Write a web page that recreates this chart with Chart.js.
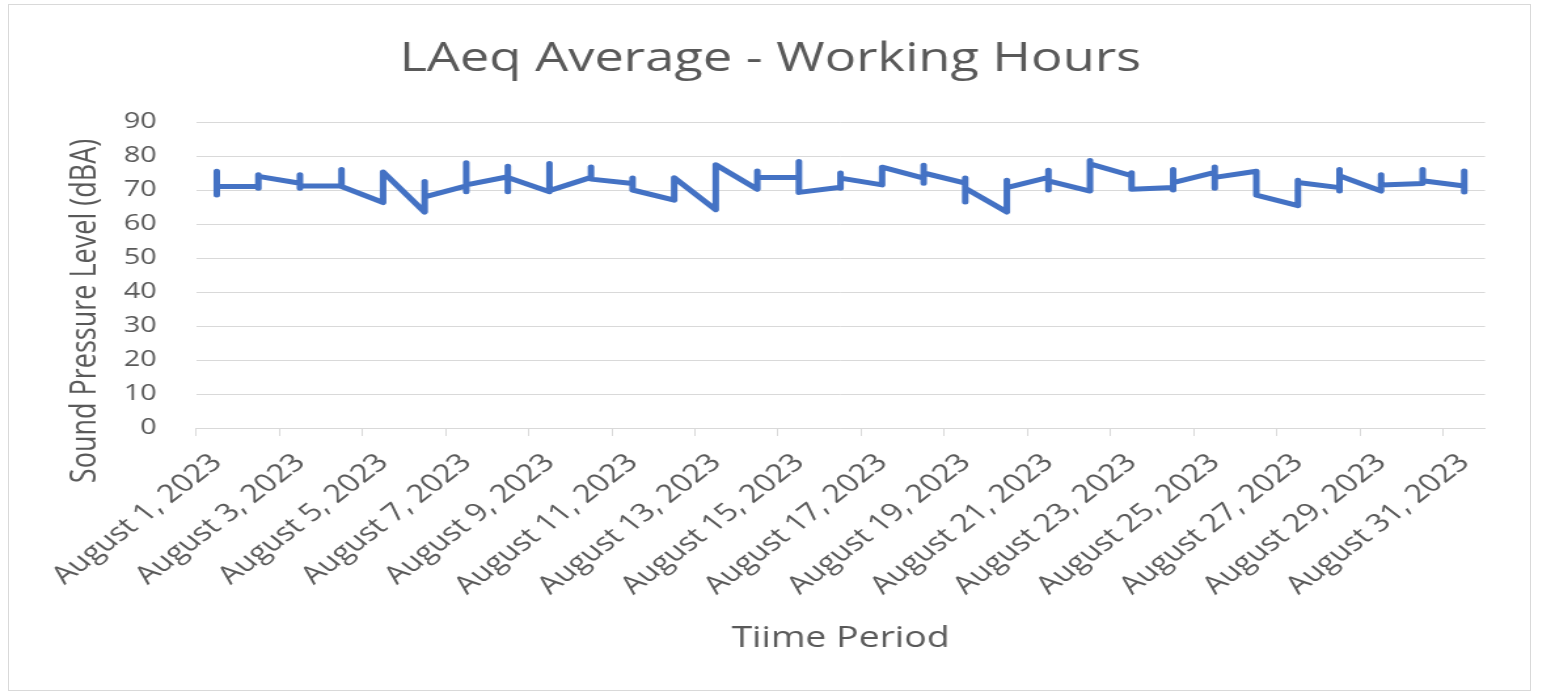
<!DOCTYPE html>
<html>
<head>
<meta charset="utf-8">
<script src="https://cdn.jsdelivr.net/npm/chart.js@4.4.1/dist/chart.umd.min.js"></script>
<style>
  body { margin: 0; background: #fff; overflow: hidden; }
  #frame { position: absolute; left: 8px; top: 4px; width: 1521px; height: 685px; border: 1px solid #d9d9d9; }
  /* the source picture is stretched sideways, so the chart is drawn narrow and scaled */
  #wrap { position: absolute; left: 0; top: 0; transform: scaleX(1.31); transform-origin: 0 0; }
</style>
</head>
<body>
<div id="frame"></div>
<div id="wrap"><canvas id="chart" width="1176" height="694"></canvas></div>
<script>
// days of August 2023
const days = [1, 2, 3, 4, 5, 6, 7, 8, 9, 10, 11, 12, 13, 14, 15, 16, 17, 18, 19, 20, 21, 22, 23, 24, 25, 26, 27, 28, 29, 30, 31];

// readings per day (dBA), several per day, all plotted on the same date
const dayValues = [
  [75.5, 68.5, 71], [71, 70.5, 74.5, 74], [72, 74.5, 70.5, 71.2], [71.2, 76, 71.5, 71],
  [66.3, 75.3], [63.5, 72.5, 68], [71.2, 69.5, 78, 71.5], [73.9, 77, 69.5, 73.7],
  [69.5, 77.8, 69.8], [73.7, 76.8, 73.2], [71.9, 73.5, 70.5, 70], [67, 73.6],
  [64.2, 77.4], [70.2, 75.6, 73.7], [73.7, 78.4, 69.3], [70.8, 70.5, 75, 73.5],
  [71.5, 76.7], [73.5, 77.3, 72, 75], [72, 73.5, 66.5, 70.5], [63.5, 72.9, 70.7],
  [73.7, 75.8, 70, 72.7], [69.7, 78.7, 77.7], [74.2, 75.1, 70.2], [70.7, 70, 76, 72.2],
  [75.2, 76.8, 70.5, 73.7], [75.5, 68.5], [65.4, 72.9, 72.2], [70.7, 69.7, 76, 74.2],
  [69.7, 74.5, 70.2, 71.5], [71.9, 76, 72, 72.7], [71.2, 75.6, 69.4]
];

// tick positions (day boundaries, every 2 days) and their labels
const tickValues = [0.5, 2.5, 4.5, 6.5, 8.5, 10.5, 12.5, 14.5, 16.5, 18.5, 20.5, 22.5, 24.5, 26.5, 28.5, 30.5];
const tickLabels = [
  "August 1, 2023", "August 3, 2023", "August 5, 2023", "August 7, 2023",
  "August 9, 2023", "August 11, 2023", "August 13, 2023", "August 15, 2023",
  "August 17, 2023", "August 19, 2023", "August 21, 2023", "August 23, 2023",
  "August 25, 2023", "August 27, 2023", "August 29, 2023", "August 31, 2023"
];

const yTitle = "Sound Pressure Level (dBA)";

const points = [];
dayValues.forEach((vals, i) => {
  vals.forEach(v => points.push({ x: days[i], y: v }));
});

const grey = "#595959";
const font = "'Open Sans', 'DejaVu Sans', sans-serif";

// Excel puts the value axis title lower than the plot centre, so draw it by hand
const yTitlePlugin = {
  id: "yTitle",
  afterDraw(chart) {
    const ctx = chart.ctx;
    ctx.save();
    ctx.translate(65.6, 311);
    ctx.rotate(-Math.PI / 2);
    ctx.font = "27px " + font;
    ctx.fillStyle = grey;
    ctx.textAlign = "center";
    ctx.textBaseline = "middle";
    ctx.fillText(yTitle, 0, 0);
    ctx.restore();
  }
};

new Chart(document.getElementById("chart"), {
  type: "line",
  plugins: [yTitlePlugin],
  data: {
    datasets: [{
      data: points,
      borderColor: "#4472C4",
      borderWidth: 5,
      pointRadius: 0,
      tension: 0,
      borderJoinStyle: "round",
      borderCapStyle: "round"
    }]
  },
  options: {
    responsive: false,
    animation: false,
    devicePixelRatio: 1,
    layout: { padding: { left: 20, right: 20, top: 0, bottom: 0 } },
    plugins: {
      legend: { display: false },
      tooltip: { enabled: false },
      title: {
        display: true,
        text: "LAeq Average - Working Hours",
        color: grey,
        font: { family: font, size: 40, weight: "normal" },
        padding: { top: 36, bottom: 38 }
      }
    },
    scales: {
      x: {
        type: "linear",
        min: 0.5,
        max: 31.5,
        afterBuildTicks: (s) => { s.ticks = tickValues.map(v => ({ value: v })); },
        afterFit: (s) => { s.height = 266; },
        grid: { display: true, drawOnChartArea: false, drawTicks: true, tickLength: 8, color: "#d9d9d9" },
        border: { display: true, color: "#d9d9d9", width: 1 },
        ticks: {
          autoSkip: false,
          minRotation: 45,
          maxRotation: 45,
          labelOffset: 16,
          padding: 12,
          color: grey,
          font: { family: font, size: 25 },
          callback: (v) => tickLabels[tickValues.indexOf(v)]
        },
        title: {
          display: true,
          text: "Tiime Period",
          color: grey,
          font: { family: font, size: 28.5 },
          padding: { top: 0, bottom: 38 }
        }
      },
      y: {
        min: 0,
        max: 90,
        afterFit: (s) => { s.width = 129.6; },
        grid: { color: "#d9d9d9", drawTicks: false },
        border: { display: false },
        ticks: { stepSize: 10, padding: 30, color: grey, font: { family: font, size: 22 } },
        title: { display: false }
      },
      yr: {
        position: "right",
        display: true,
        afterFit: (s) => { s.width = 22.4; },
        grid: { display: false },
        border: { display: false },
        ticks: { display: false }
      }
    }
  }
});
</script>
</body>
</html>
